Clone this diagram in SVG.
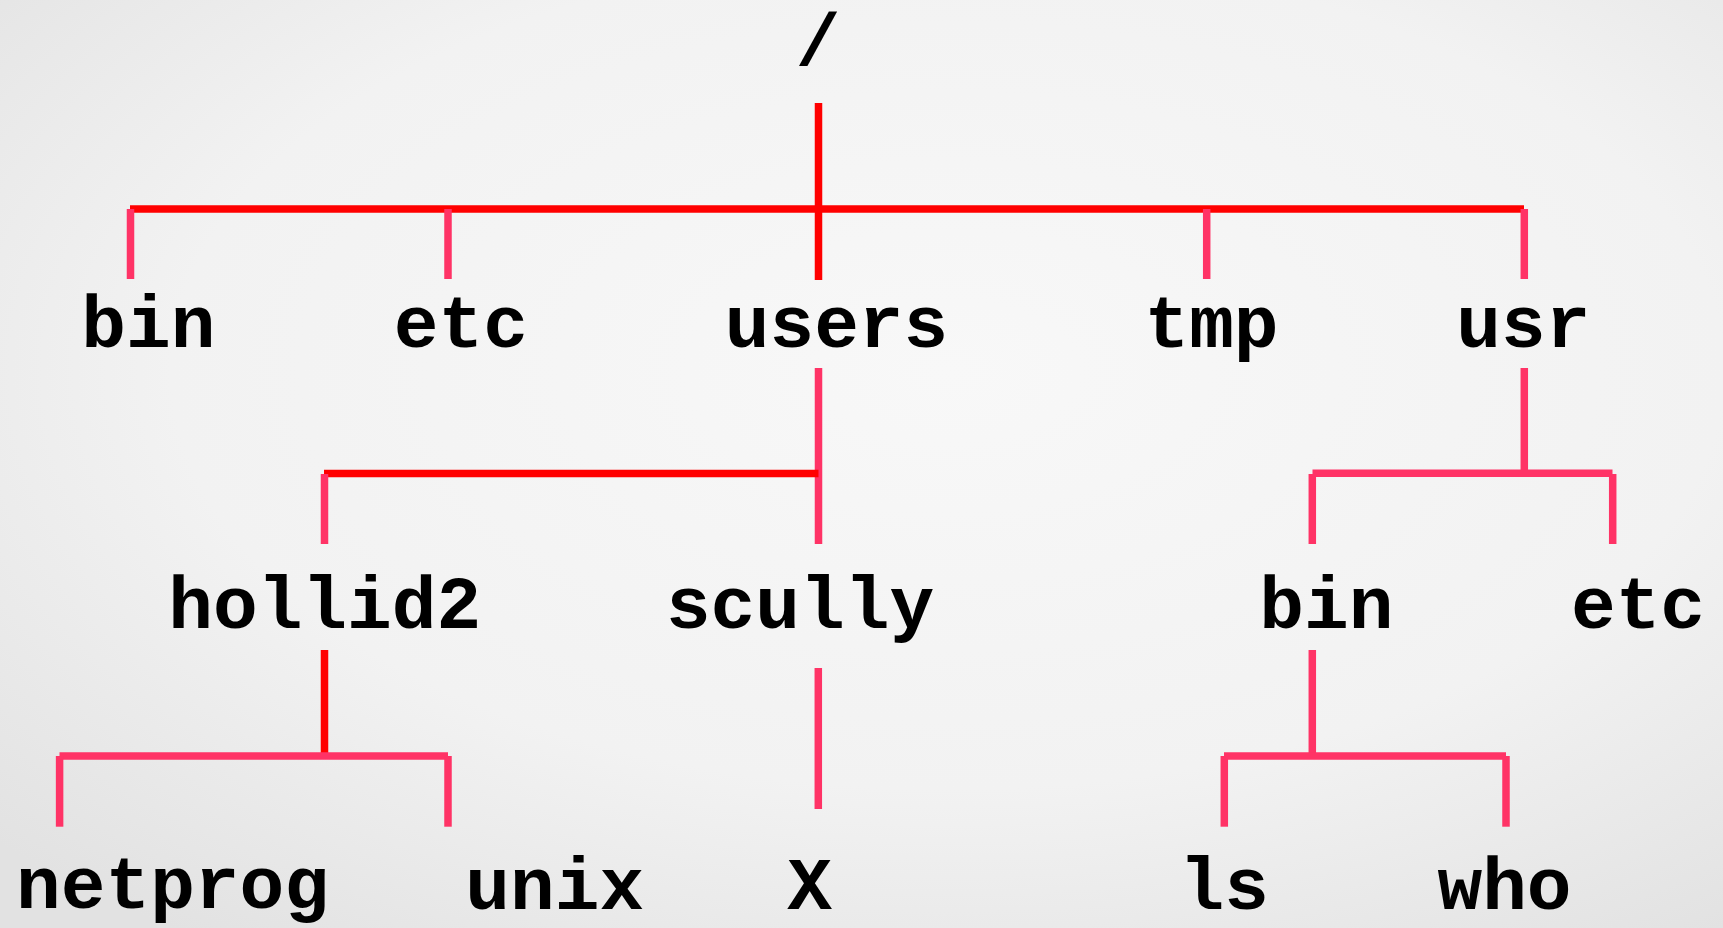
<svg xmlns="http://www.w3.org/2000/svg" width="1723" height="928" viewBox="0 0 1723 928">
  <defs>
    <radialGradient id="bg" cx="0.55" cy="0.4" r="0.75">
      <stop offset="0" stop-color="#f8f8f8"/>
      <stop offset="0.6" stop-color="#f2f2f2"/>
      <stop offset="1" stop-color="#e2e2e2"/>
    </radialGradient>
    <style>
      .lbl { font-family: "Liberation Mono", "Cousine", monospace; font-weight: bold; font-size: 74.5px; fill: #000; text-anchor: middle; }
      .red { stroke: #ff0000; stroke-width: 7.5; fill: none; }
      .pink { stroke: #ff3366; stroke-width: 7.5; fill: none; }
    </style>
  </defs>

  <rect x="0" y="0" width="1723" height="928" fill="url(#bg)"/>

  <!-- tree connectors -->
  <g id="connectors">
    <!-- root level -->
    <line class="red" x1="818.5" y1="103" x2="818.5" y2="280"/>
    <line class="red" x1="130" y1="209" x2="1524" y2="209"/>
    <line class="pink" x1="130.5" y1="209" x2="130.5" y2="279"/>
    <line class="pink" x1="448" y1="209" x2="448" y2="279"/>
    <line class="pink" x1="1206.7" y1="209" x2="1206.7" y2="279"/>
    <line class="pink" x1="1524.3" y1="209" x2="1524.3" y2="279"/>

    <!-- users -->
    <line class="pink" x1="818.5" y1="368" x2="818.5" y2="544"/>
    <line class="red" x1="324" y1="473.5" x2="818.5" y2="473.5"/>
    <line class="pink" x1="324.5" y1="474" x2="324.5" y2="544"/>

    <!-- usr -->
    <line class="pink" x1="1524.3" y1="368" x2="1524.3" y2="473"/>
    <line class="pink" x1="1312.5" y1="473.3" x2="1612.5" y2="473.3"/>
    <line class="pink" x1="1312.3" y1="474" x2="1312.3" y2="544"/>
    <line class="pink" x1="1612.7" y1="474" x2="1612.7" y2="544"/>

    <!-- hollid2 -->
    <line class="red" x1="324.5" y1="650" x2="324.5" y2="753"/>
    <line class="pink" x1="59.5" y1="756" x2="448" y2="756"/>
    <line class="pink" x1="59.6" y1="756" x2="59.6" y2="826.7"/>
    <line class="pink" x1="448" y1="756" x2="448" y2="826.7"/>

    <!-- scully -->
    <line class="pink" x1="818.3" y1="668" x2="818.3" y2="809"/>

    <!-- usr/bin -->
    <line class="pink" x1="1312.3" y1="650" x2="1312.3" y2="753"/>
    <line class="pink" x1="1224" y1="756" x2="1506" y2="756"/>
    <line class="pink" x1="1224.3" y1="756" x2="1224.3" y2="826.7"/>
    <line class="pink" x1="1506" y1="756" x2="1506" y2="826.7"/>
  </g>

  <!-- directory nodes -->
  <g id="node-root"><text class="lbl" x="818" y="65">/</text></g>
  <g id="node-bin"><text class="lbl" x="148.4" y="347">bin</text></g>
  <g id="node-etc"><text class="lbl" x="460.8" y="347">etc</text></g>
  <g id="node-users"><text class="lbl" x="836.5" y="347">users</text></g>
  <g id="node-tmp"><text class="lbl" x="1211.5" y="347">tmp</text></g>
  <g id="node-usr"><text class="lbl" x="1523.3" y="347">usr</text></g>
  <g id="node-hollid2"><text class="lbl" x="324.7" y="628">hollid2</text></g>
  <g id="node-scully"><text class="lbl" x="800" y="628">scully</text></g>
  <g id="node-usr-bin"><text class="lbl" x="1326.4" y="628">bin</text></g>
  <g id="node-usr-etc"><text class="lbl" x="1638" y="628">etc</text></g>
  <g id="node-netprog"><text class="lbl" x="172.5" y="908">netprog</text></g>
  <g id="node-unix"><text class="lbl" x="554.7" y="909">unix</text></g>
  <g id="node-x"><text class="lbl" x="809.7" y="909">X</text></g>
  <g id="node-ls"><text class="lbl" x="1224.2" y="909">ls</text></g>
  <g id="node-who"><text class="lbl" x="1504.5" y="909">who</text></g>
</svg>
